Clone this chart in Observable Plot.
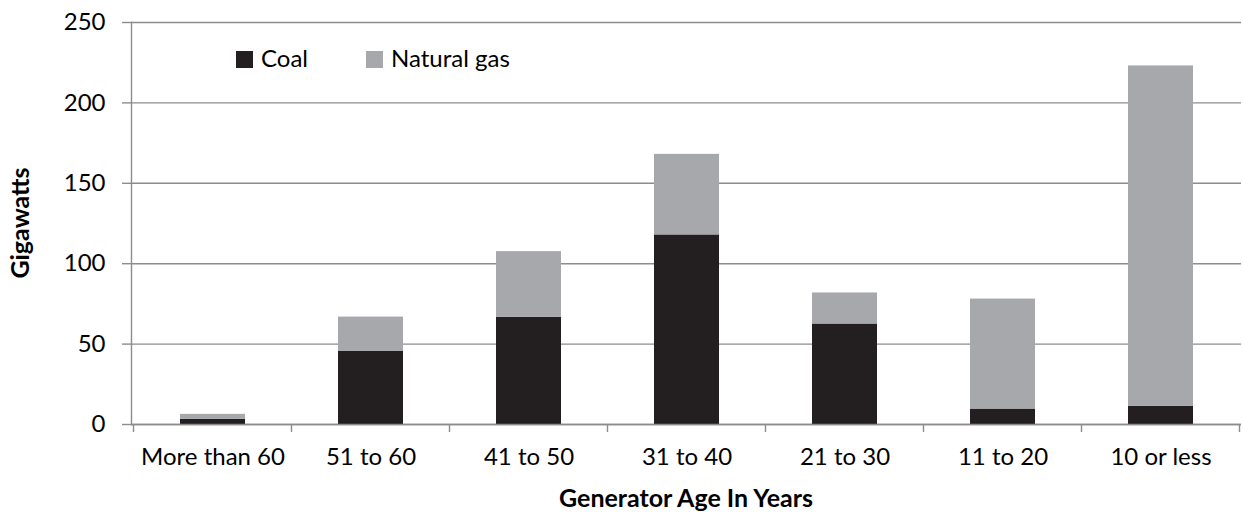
<!DOCTYPE html>
<html>
<head>
<meta charset="utf-8">
<script src="https://cdn.jsdelivr.net/npm/d3@7"></script>
<script src="https://cdn.jsdelivr.net/npm/@observablehq/plot@0.6"></script>
<style>
  html, body { margin: 0; padding: 0; background: #fff; }
  #chart { width: 1243px; height: 512px; }
</style>
</head>
<body>
<div id="chart"></div>
<script>
const categories = ["More than 60", "51 to 60", "41 to 50", "31 to 40", "21 to 30", "11 to 20", "10 or less"];
const coal = [3.3, 45.4, 66.6, 117.9, 62.5, 9.6, 11.4];
const naturalGas = [3.0, 21.4, 40.9, 50.1, 19.3, 68.4, 211.6];
const seriesNames = ["Coal", "Natural gas"];
const seriesColors = ["#231f20", "#a7a8ab"];
const yTicks = [0, 50, 100, 150, 200, 250];
const yTitle = "Gigawatts";
const xTitle = "Generator Age In Years";

const rows = [];
categories.forEach((c, i) => {
  rows.push({category: c, fuel: seriesNames[0], value: coal[i]});
  rows.push({category: c, fuel: seriesNames[1], value: naturalGas[i]});
});

const gridColor = "#8c8c8c";
const font = "Lato, 'Open Sans', sans-serif";

const plot = Plot.plot({
  width: 1243,
  height: 512,
  marginLeft: 131,
  marginRight: 2,
  marginTop: 22,
  marginBottom: 88,
  style: {fontFamily: font, fontSize: "24px", color: "#000", background: "#fff"},
  x: {domain: categories, paddingInner: 0.59, paddingOuter: 0.295, label: null},
  y: {domain: [0, 250], label: null},
  color: {domain: seriesNames, range: seriesColors},
  marks: [
    Plot.gridY(yTicks, {stroke: gridColor, strokeOpacity: 1, strokeWidth: 1.4}),
    Plot.barY(rows, Plot.stackY({x: "category", y: "value", fill: "fuel", order: seriesNames})),
    Plot.ruleY([0], {stroke: gridColor, strokeWidth: 1.4}),
    Plot.frame({anchor: "left", stroke: gridColor, strokeWidth: 1.4}),
    Plot.axisY({ticks: yTicks, tickSize: 9, tickPadding: 17, stroke: gridColor, strokeWidth: 1.4, label: null, fill: "#000"}),
    Plot.axisX({tickSize: 0, tickPadding: 23, label: null, fill: "#000"})
  ]
});

document.getElementById("chart").appendChild(plot);

const svg = d3.select(plot);
const xs = plot.scale("x");
const ys = plot.scale("y");
const y0 = ys.apply(0);
const step = xs.step;
const bw = xs.bandwidth;

// category boundary ticks
const bounds = categories.map(c => xs.apply(c) + bw / 2 - step / 2);
bounds.push(xs.apply(categories[categories.length - 1]) + bw / 2 + step / 2);
svg.append("g").selectAll("line").data(bounds).join("line")
  .attr("x1", d => d).attr("x2", d => d)
  .attr("y1", y0).attr("y2", y0 + 8)
  .attr("stroke", gridColor).attr("stroke-width", 1.4);

// axis titles
svg.append("text")
  .attr("transform", `translate(29, ${(ys.apply(0) + ys.apply(250)) / 2}) rotate(-90)`)
  .attr("text-anchor", "middle")
  .attr("font-family", font).attr("font-weight", "bold").attr("font-size", 25)
  .attr("fill", "#000")
  .text(yTitle);

svg.append("text")
  .attr("x", (xs.range[0] + xs.range[1]) / 2)
  .attr("y", 507)
  .attr("text-anchor", "middle")
  .attr("font-family", font).attr("font-weight", "bold").attr("font-size", 25)
  .attr("fill", "#000")
  .text(xTitle);

// legend
const legend = svg.append("g").attr("font-family", font).attr("font-size", 24).attr("text-anchor", "start");
const legendX = [236, 366];
seriesNames.forEach((name, i) => {
  legend.append("rect").attr("x", legendX[i]).attr("y", 51).attr("width", 17).attr("height", 17)
    .attr("fill", seriesColors[i]);
  legend.append("text").attr("x", legendX[i] + 25).attr("y", 67).attr("text-anchor", "start")
    .attr("fill", "#000").text(name);
});
</script>
</body>
</html>
